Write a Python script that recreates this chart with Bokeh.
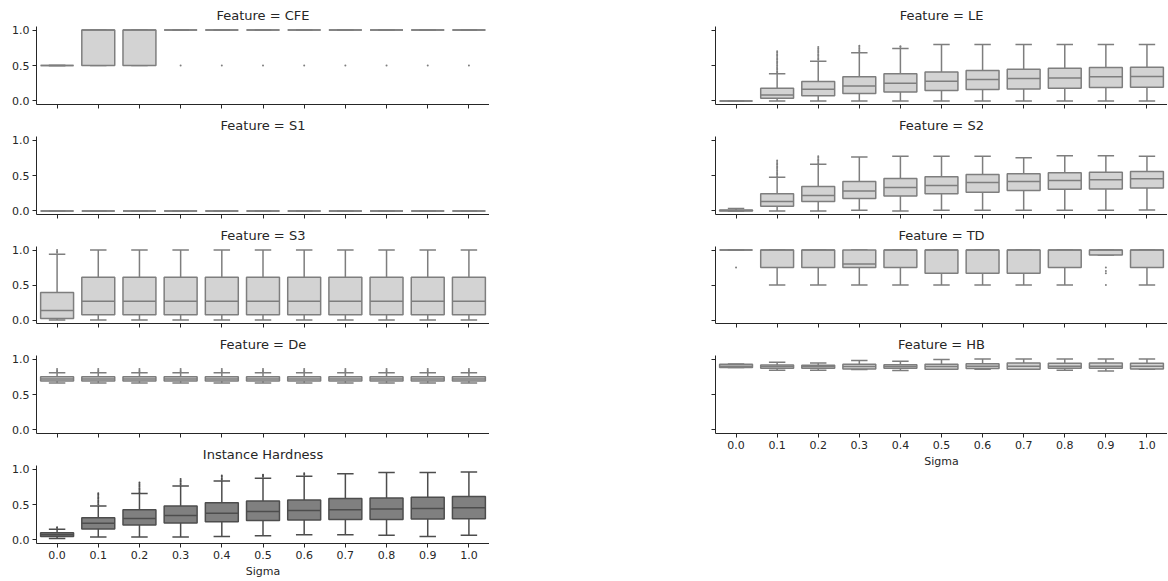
from bokeh.plotting import figure
from bokeh.models import ColumnDataSource, FixedTicker, PrintfTickFormatter, Range1d, Spacer
from bokeh.layouts import column, row
from bokeh.transform import dodge
from bokeh.embed import file_html
from bokeh.resources import INLINE

sigma_labels = ["0.0", "0.1", "0.2", "0.3", "0.4", "0.5", "0.6", "0.7", "0.8", "0.9", "1.0"]
sigma_pos = list(range(len(sigma_labels)))

# ---- Feature = CFE
cfe_lo = [0.5, 0.5, 0.5, 1.0, 1.0, 1.0, 1.0, 1.0, 1.0, 1.0, 1.0]
cfe_q1 = [0.5, 0.5, 0.5, 1.0, 1.0, 1.0, 1.0, 1.0, 1.0, 1.0, 1.0]
cfe_med = [0.5, 1.0, 1.0, 1.0, 1.0, 1.0, 1.0, 1.0, 1.0, 1.0, 1.0]
cfe_q3 = [0.5, 1.0, 1.0, 1.0, 1.0, 1.0, 1.0, 1.0, 1.0, 1.0, 1.0]
cfe_hi = [0.5, 1.0, 1.0, 1.0, 1.0, 1.0, 1.0, 1.0, 1.0, 1.0, 1.0]
cfe_out = [[], [], [], [0.5], [0.5], [0.5], [0.5], [0.5], [0.5], [0.5], [0.5]]

# ---- Feature = LE
le_lo = [0.0, 0.0, 0.0, 0.0, 0.0, 0.0, 0.0, 0.0, 0.0, 0.0, 0.0]
le_q1 = [0.0, 0.038, 0.075, 0.104, 0.127, 0.146, 0.16, 0.17, 0.179, 0.189, 0.193]
le_med = [0.0, 0.085, 0.165, 0.212, 0.25, 0.278, 0.302, 0.316, 0.325, 0.34, 0.344]
le_q3 = [0.0, 0.179, 0.274, 0.34, 0.382, 0.41, 0.429, 0.448, 0.462, 0.472, 0.476]
le_hi = [0.0, 0.382, 0.561, 0.679, 0.74, 0.797, 0.797, 0.797, 0.797, 0.797, 0.797]
le_out = [[],
          [0.40, 0.42, 0.44, 0.46, 0.48, 0.50, 0.52, 0.54, 0.56, 0.58, 0.60, 0.62, 0.64, 0.66, 0.68, 0.70],
          [0.58, 0.60, 0.62, 0.64, 0.66, 0.68, 0.70, 0.72, 0.74, 0.76],
          [0.70, 0.72, 0.74, 0.76, 0.78],
          [0.76, 0.77],
          [], [], [], [], [], []]

# ---- Feature = S1
s1_lo = [0.0, 0.0, 0.0, 0.0, 0.0, 0.0, 0.0, 0.0, 0.0, 0.0, 0.0]
s1_q1 = [0.0, 0.0, 0.0, 0.0, 0.0, 0.0, 0.0, 0.0, 0.0, 0.0, 0.0]
s1_med = [0.0, 0.0, 0.0, 0.0, 0.0, 0.0, 0.0, 0.0, 0.0, 0.0, 0.0]
s1_q3 = [0.0, 0.0, 0.0, 0.0, 0.0, 0.0, 0.0, 0.0, 0.0, 0.0, 0.0]
s1_hi = [0.0, 0.0, 0.0, 0.0, 0.0, 0.0, 0.0, 0.0, 0.0, 0.0, 0.0]
s1_out = [[], [], [], [], [], [], [], [], [], [], []]

# ---- Feature = S2
s2_lo = [0.0, 0.0, 0.0, 0.01, 0.0, 0.01, 0.01, 0.01, 0.01, 0.01, 0.014]
s2_q1 = [0.0, 0.066, 0.132, 0.175, 0.212, 0.241, 0.264, 0.288, 0.307, 0.311, 0.325]
s2_med = [0.008, 0.132, 0.217, 0.283, 0.33, 0.358, 0.40, 0.415, 0.43, 0.439, 0.453]
s2_q3 = [0.015, 0.241, 0.344, 0.415, 0.458, 0.481, 0.514, 0.524, 0.538, 0.547, 0.557]
s2_hi = [0.035, 0.476, 0.66, 0.76, 0.77, 0.77, 0.77, 0.75, 0.78, 0.78, 0.77]
s2_out = [[],
          [0.49, 0.51, 0.53, 0.55, 0.57, 0.59, 0.61, 0.63, 0.65, 0.67, 0.69, 0.71],
          [0.67, 0.69, 0.71, 0.73, 0.75, 0.77],
          [], [], [], [], [], [], [], []]

# ---- Feature = S3
s3_lo = [0.0, 0.0, 0.0, 0.0, 0.0, 0.0, 0.0, 0.0, 0.0, 0.0, 0.0]
s3_q1 = [0.023, 0.074, 0.074, 0.074, 0.074, 0.074, 0.074, 0.074, 0.074, 0.074, 0.074]
s3_med = [0.134, 0.268, 0.268, 0.268, 0.268, 0.268, 0.268, 0.268, 0.268, 0.268, 0.268]
s3_q3 = [0.394, 0.611, 0.611, 0.611, 0.611, 0.611, 0.611, 0.611, 0.611, 0.611, 0.611]
s3_hi = [0.94, 1.0, 1.0, 1.0, 1.0, 1.0, 1.0, 1.0, 1.0, 1.0, 1.0]
s3_out = [[0.96, 0.98, 1.0], [], [], [], [], [], [], [], [], [], []]

# ---- Feature = TD
td_lo = [1.0, 0.5, 0.5, 0.5, 0.5, 0.5, 0.5, 0.5, 0.5, 0.93, 0.5]
td_q1 = [1.0, 0.75, 0.75, 0.75, 0.75, 0.667, 0.667, 0.667, 0.75, 0.93, 0.75]
td_med = [1.0, 1.0, 1.0, 0.8, 1.0, 1.0, 1.0, 1.0, 1.0, 1.0, 1.0]
td_q3 = [1.0, 1.0, 1.0, 1.0, 1.0, 1.0, 1.0, 1.0, 1.0, 1.0, 1.0]
td_hi = [1.0, 1.0, 1.0, 1.0, 1.0, 1.0, 1.0, 1.0, 1.0, 1.0, 1.0]
td_out = [[0.75], [], [], [], [], [], [], [], [], [0.75, 0.70, 0.667, 0.5], []]

# ---- Feature = De
de_lo = [0.662, 0.662, 0.662, 0.662, 0.662, 0.662, 0.662, 0.662, 0.662, 0.662, 0.662]
de_q1 = [0.69, 0.69, 0.69, 0.69, 0.69, 0.69, 0.69, 0.69, 0.69, 0.69, 0.69]
de_med = [0.72, 0.72, 0.72, 0.72, 0.72, 0.72, 0.72, 0.72, 0.72, 0.72, 0.72]
de_q3 = [0.75, 0.75, 0.75, 0.75, 0.75, 0.75, 0.75, 0.75, 0.75, 0.75, 0.75]
de_hi = [0.806, 0.806, 0.806, 0.806, 0.806, 0.806, 0.806, 0.806, 0.806, 0.806, 0.806]
de_out = [[0.82, 0.84, 0.86], [0.82, 0.84, 0.86], [0.82, 0.84, 0.86], [0.82, 0.84, 0.86],
          [0.82, 0.84, 0.86], [0.82, 0.84, 0.86], [0.82, 0.84, 0.86], [0.82, 0.84, 0.86],
          [0.82, 0.84, 0.86], [0.82, 0.84, 0.86], [0.82, 0.84, 0.86]]

# ---- Feature = HB
hb_lo = [0.88, 0.843, 0.843, 0.852, 0.838, 0.857, 0.857, 0.857, 0.843, 0.833, 0.857]
hb_q1 = [0.88, 0.87, 0.87, 0.861, 0.87, 0.857, 0.866, 0.857, 0.87, 0.87, 0.861]
hb_med = [0.90, 0.895, 0.895, 0.894, 0.895, 0.895, 0.90, 0.90, 0.90, 0.90, 0.90]
hb_q3 = [0.926, 0.917, 0.912, 0.926, 0.921, 0.926, 0.935, 0.944, 0.94, 0.944, 0.94]
hb_hi = [0.93, 0.954, 0.944, 0.98, 0.97, 0.995, 1.0, 1.0, 1.0, 1.0, 1.0]
hb_out = [[], [], [], [], [], [], [], [], [], [], []]

# ---- Instance Hardness
ih_lo = [0.02, 0.04, 0.04, 0.04, 0.047, 0.06, 0.075, 0.075, 0.065, 0.05, 0.065]
ih_q1 = [0.047, 0.154, 0.21, 0.238, 0.257, 0.276, 0.28, 0.29, 0.29, 0.294, 0.30]
ih_med = [0.075, 0.234, 0.304, 0.346, 0.378, 0.40, 0.416, 0.425, 0.435, 0.444, 0.453]
ih_q3 = [0.103, 0.313, 0.425, 0.48, 0.523, 0.551, 0.565, 0.584, 0.593, 0.603, 0.612]
ih_hi = [0.15, 0.48, 0.654, 0.76, 0.83, 0.87, 0.897, 0.935, 0.95, 0.95, 0.958]
ih_out = [[0.17, 0.18],
          [0.50, 0.52, 0.54, 0.56, 0.58, 0.60, 0.62, 0.64, 0.66],
          [0.67, 0.69, 0.71, 0.73, 0.75, 0.77, 0.79, 0.81],
          [0.78, 0.80, 0.82, 0.84, 0.86],
          [0.85, 0.87, 0.89, 0.91],
          [0.89, 0.91, 0.92],
          [0.92, 0.94],
          [], [], [], []]

TEXT = "#262626"
LIGHT_FILL, LIGHT_EDGE = "#d3d3d3", "#7e7e7e"
DARK_FILL, DARK_EDGE = "#808080", "#4d4d4d"
FONT = "DejaVu Sans"


def panel(title, lo, q1, med, q3, hi, out, fill, edge, width, height, left_border,
          bottom=6, ylabels=True, xlabels=False):
    p = figure(width=width, height=height, title=title,
               x_range=Range1d(-0.5, 10.5), y_range=Range1d(-0.05, 1.05),
               output_backend="svg", toolbar_location=None,
               min_border_left=left_border, min_border_right=0,
               min_border_top=26, min_border_bottom=bottom,
               outline_line_color=None, background_fill_color="white",
               border_fill_color="white")
    p.title.align = "center"
    p.title.text_font = FONT
    p.title.text_font_size = "13px"
    p.title.text_font_style = "normal"
    p.title.text_color = TEXT
    p.title.standoff = 8
    p.grid.visible = False

    for ax in (p.xaxis[0], p.yaxis[0]):
        ax.axis_line_color = TEXT
        ax.axis_line_width = 1
        ax.major_tick_line_color = TEXT
        ax.major_tick_out = 4
        ax.major_tick_in = 0
        ax.minor_tick_out = 0
        ax.minor_tick_in = 0
        ax.major_label_text_font = FONT
        ax.major_label_text_font_size = "11px"
        ax.major_label_text_color = TEXT
        ax.major_label_standoff = 3

    p.xaxis.ticker = FixedTicker(ticks=sigma_pos)
    p.xaxis.major_label_overrides = {i: s for i, s in zip(sigma_pos, sigma_labels)}
    p.yaxis.ticker = FixedTicker(ticks=[0.0, 0.5, 1.0])
    p.yaxis.formatter = PrintfTickFormatter(format="%.1f")
    if not ylabels:
        p.yaxis.major_label_text_color = None
    if xlabels:
        p.xaxis.axis_label = "Sigma"
        p.xaxis.axis_label_text_font = FONT
        p.xaxis.axis_label_text_font_size = "11px"
        p.xaxis.axis_label_text_font_style = "normal"
        p.xaxis.axis_label_text_color = TEXT
        p.xaxis.axis_label_standoff = 3
    else:
        p.xaxis.major_label_text_color = None

    src = ColumnDataSource(dict(x=sigma_pos, lo=lo, q1=q1, med=med, q3=q3, hi=hi))
    lw = 1.5
    p.segment(x0="x", y0="q3", x1="x", y1="hi", source=src, line_color=edge, line_width=lw)
    p.segment(x0="x", y0="q1", x1="x", y1="lo", source=src, line_color=edge, line_width=lw)
    p.segment(x0=dodge("x", -0.2), y0="hi", x1=dodge("x", 0.2), y1="hi", source=src,
              line_color=edge, line_width=lw)
    p.segment(x0=dodge("x", -0.2), y0="lo", x1=dodge("x", 0.2), y1="lo", source=src,
              line_color=edge, line_width=lw)
    p.vbar(x="x", width=0.8, bottom="q1", top="q3", source=src,
           fill_color=fill, line_color=edge, line_width=lw)
    p.segment(x0=dodge("x", -0.4), y0="med", x1=dodge("x", 0.4), y1="med", source=src,
              line_color=edge, line_width=lw)
    fx = [sigma_pos[i] for i, vals in enumerate(out) for _ in vals]
    fy = [v for vals in out for v in vals]
    if fx:
        p.scatter(x=fx, y=fy, size=2, marker="circle", fill_color=edge, line_color=None)
    return p


LW, LB = 489, 36
RW, RB = 480, 28
left = column(
    panel("Feature = CFE", cfe_lo, cfe_q1, cfe_med, cfe_q3, cfe_hi, cfe_out, LIGHT_FILL, LIGHT_EDGE, LW, 110, LB),
    panel("Feature = S1", s1_lo, s1_q1, s1_med, s1_q3, s1_hi, s1_out, LIGHT_FILL, LIGHT_EDGE, LW, 110, LB),
    panel("Feature = S3", s3_lo, s3_q1, s3_med, s3_q3, s3_hi, s3_out, LIGHT_FILL, LIGHT_EDGE, LW, 109, LB),
    panel("Feature = De", de_lo, de_q1, de_med, de_q3, de_hi, de_out, LIGHT_FILL, LIGHT_EDGE, LW, 110, LB),
    panel("Instance Hardness", ih_lo, ih_q1, ih_med, ih_q3, ih_hi, ih_out, DARK_FILL, DARK_EDGE, LW, 141, LB,
          bottom=37, xlabels=True),
    spacing=0)
right = column(
    panel("Feature = LE", le_lo, le_q1, le_med, le_q3, le_hi, le_out, LIGHT_FILL, LIGHT_EDGE, RW, 110, RB,
          ylabels=False),
    panel("Feature = S2", s2_lo, s2_q1, s2_med, s2_q3, s2_hi, s2_out, LIGHT_FILL, LIGHT_EDGE, RW, 110, RB,
          ylabels=False),
    panel("Feature = TD", td_lo, td_q1, td_med, td_q3, td_hi, td_out, LIGHT_FILL, LIGHT_EDGE, RW, 109, RB,
          ylabels=False),
    panel("Feature = HB", hb_lo, hb_q1, hb_med, hb_q3, hb_hi, hb_out, LIGHT_FILL, LIGHT_EDGE, RW, 141, RB,
          bottom=37, ylabels=False, xlabels=True),
    spacing=0)
layout = row(left, Spacer(width=198, height=10), right, spacing=0)

open("out.html", "w").write(file_html(layout, INLINE))
